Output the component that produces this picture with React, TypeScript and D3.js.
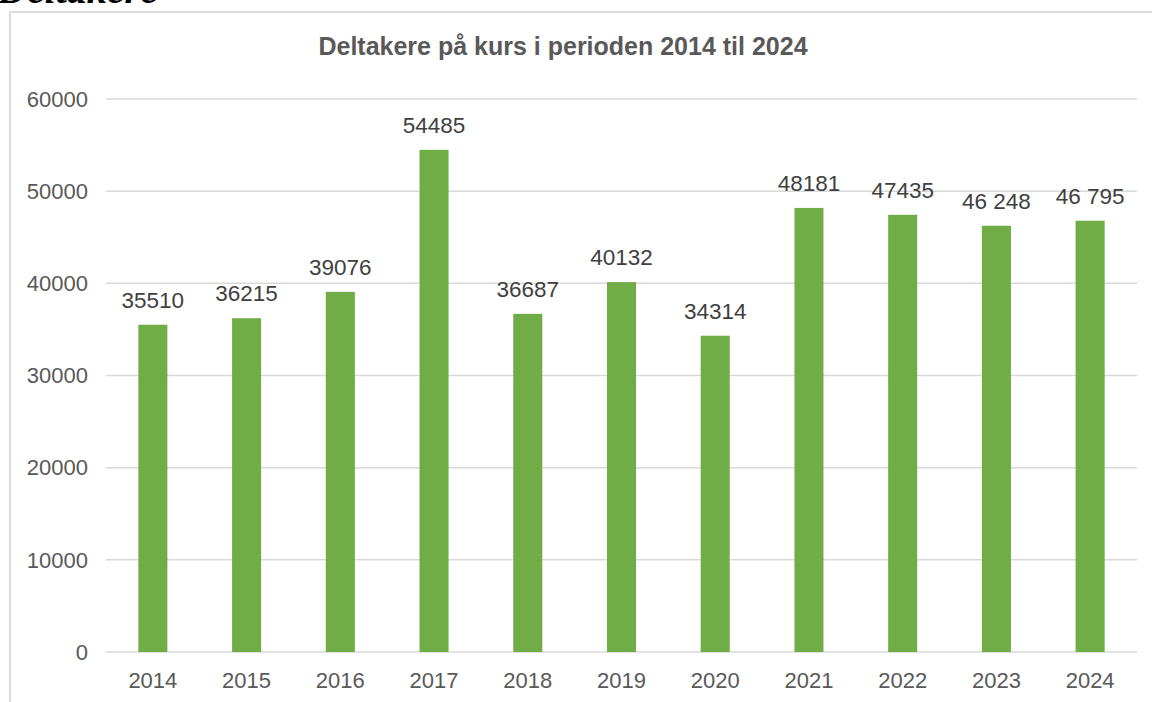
import React from "react";
import * as d3 from "d3";

const years = ["2014", "2015", "2016", "2017", "2018", "2019", "2020", "2021", "2022", "2023", "2024"];
const values = [35510, 36215, 39076, 54485, 36687, 40132, 34314, 48181, 47435, 46248, 46795];
const valueLabels = ["35510", "36215", "39076", "54485", "36687", "40132", "34314", "48181", "47435", "46 248", "46 795"];
const yTicks = [0, 10000, 20000, 30000, 40000, 50000, 60000];
const title = "Deltakere på kurs i perioden 2014 til 2024";

export default function App() {
  const W = 1152, H = 702;
  const left = 106, right = 1137, top = 99, bottom = 652;
  const x = d3.scaleBand<string>().domain(years).range([left, right]).paddingInner(0.69).paddingOuter(0.345);
  const y = d3.scaleLinear().domain([0, 60000]).range([bottom, top]);
  const font = "'Liberation Sans', Arial, Helvetica, sans-serif";
  return (
    <div style={{ position: "absolute", left: 0, top: 0 }}>
      <svg width={W} height={H} style={{ display: "block" }}>
        <rect x={0} y={0} width={W} height={H} fill="#fff" />
        <text x={-2} y={3} fontFamily="'Liberation Serif', 'Times New Roman', serif" fontWeight="bold" fontStyle="italic" fontSize={40} fill="#000">Deltakere</text>
        <rect x={10} y={12} width={W + 10} height={H + 10} fill="none" stroke="#dcdcdc" strokeWidth={2} />
        <text x={563} y={55} textAnchor="middle" fontFamily={font} fontWeight="bold" fontSize={25} fill="#595959">{title}</text>
        {yTicks.map((t) => (
          <g key={t}>
            <line x1={left} x2={right} y1={y(t)} y2={y(t)} stroke="#d9d9d9" strokeWidth={1.5} />
            <text x={88} y={y(t)} dy="0.35em" textAnchor="end" fontFamily={font} fontSize={22} fill="#595959">{t}</text>
          </g>
        ))}
        {years.map((yr, i) => (
          <g key={yr}>
            <rect x={x(yr)} y={y(values[i])} width={x.bandwidth()} height={bottom - y(values[i])} fill="#70AD47" />
            <text x={(x(yr) as number) + x.bandwidth() / 2} y={y(values[i]) - 17} textAnchor="middle" fontFamily={font} fontSize={22.5} fill="#404040">{valueLabels[i]}</text>
            <text x={(x(yr) as number) + x.bandwidth() / 2} y={688} textAnchor="middle" fontFamily={font} fontSize={22} fill="#595959">{yr}</text>
          </g>
        ))}
      </svg>
    </div>
  );
}
